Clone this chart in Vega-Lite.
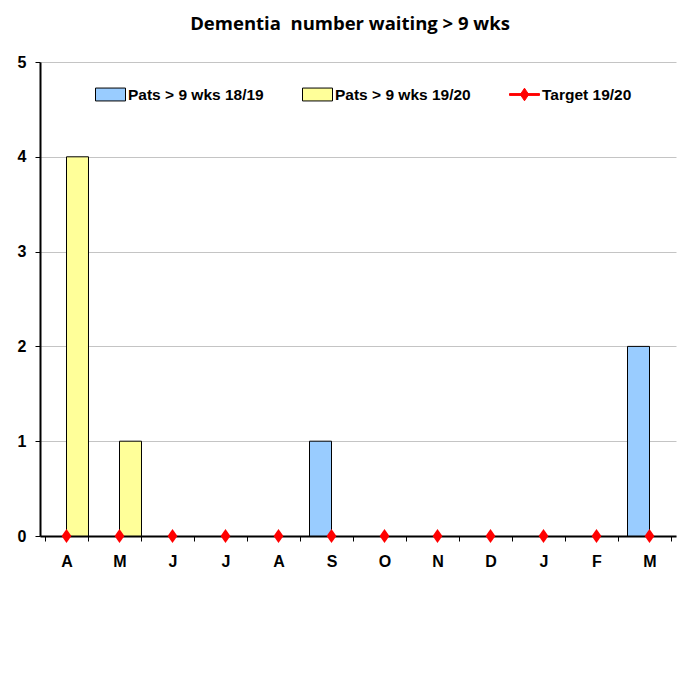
{
  "$schema": "https://vega.github.io/schema/vega-lite/v6.json",
  "autosize": "none",
  "width": 636,
  "height": 474,
  "padding": {"left": 40, "top": 62, "right": 22, "bottom": 146},
  "background": "white",
  "title": {
    "text": "Dementia\u00a0 number waiting > 9 wks",
    "font": "Open Sans",
    "fontSize": 18.5,
    "fontWeight": "bold",
    "color": "black",
    "anchor": "middle",
    "dx": -8,
    "offset": 21
  },
  "data": {
    "values": [
      {"month": "S", "series": "Pats > 9 wks 18/19", "value": 1},
      {"month": "M2", "series": "Pats > 9 wks 18/19", "value": 2},
      {"month": "A1", "series": "Pats > 9 wks 19/20", "value": 4},
      {"month": "M1", "series": "Pats > 9 wks 19/20", "value": 1},
      {"month": "A1", "series": "Target 19/20", "value": 0},
      {"month": "M1", "series": "Target 19/20", "value": 0},
      {"month": "J1", "series": "Target 19/20", "value": 0},
      {"month": "J2", "series": "Target 19/20", "value": 0},
      {"month": "A2", "series": "Target 19/20", "value": 0},
      {"month": "S", "series": "Target 19/20", "value": 0},
      {"month": "O", "series": "Target 19/20", "value": 0},
      {"month": "N", "series": "Target 19/20", "value": 0},
      {"month": "D", "series": "Target 19/20", "value": 0},
      {"month": "J3", "series": "Target 19/20", "value": 0},
      {"month": "F", "series": "Target 19/20", "value": 0},
      {"month": "M2", "series": "Target 19/20", "value": 0}
    ]
  },
  "encoding": {
    "x": {
      "field": "month",
      "type": "nominal",
      "sort": ["A1","M1","J1","J2","A2","S","O","N","D","J3","F","M2"],
      "scale": {"domain": ["A1","M1","J1","J2","A2","S","O","N","D","J3","F","M2"], "paddingInner": 0.17, "paddingOuter": 0.085},
      "axis": {
        "title": null,
        "labelAngle": 0,
        "labelExpr": "substring(datum.label, 0, 1)",
        "tickBand": "extent",
        "domainColor": "black",
        "domainWidth": 2,
        "tickColor": "black",
        "tickSize": 5,
        "labelPadding": 12,
        "grid": false
      }
    },
    "y": {
      "field": "value",
      "type": "quantitative",
      "scale": {"domain": [0, 5], "nice": false},
      "axis": {
        "title": null,
        "values": [0, 1, 2, 3, 4, 5],
        "grid": true,
        "gridColor": "#C4C4C4",
        "gridWidth": 1,
        "domainColor": "black",
        "domainWidth": 2,
        "tickColor": "black",
        "tickSize": 5,
        "labelPadding": 9
      }
    },
    "color": {
      "field": "series",
      "type": "nominal",
      "scale": {
        "domain": ["Pats > 9 wks 18/19", "Pats > 9 wks 19/20", "Target 19/20"],
        "range": ["#99CCFF", "#FFFF99", "#FF0000"]
      },
      "legend": {
        "title": null,
        "orient": "none",
        "legendX": 55,
        "legendY": 17,
        "direction": "horizontal",
        "columns": 3,
        "gridAlign": "all",
        "columnPadding": 36,
        "padding": 0,
        "symbolSize": 900,
        "symbolStrokeWidth": 1,
        "labelFont": "Liberation Sans",
        "labelFontSize": 15.5,
        "labelFontWeight": "bold",
        "labelColor": "black",
        "labelOffset": 2,
        "labelLimit": 300
      }
    }
  },
  "layer": [
    {
      "transform": [{"filter": "datum.series !== 'Target 19/20'"}],
      "mark": {"type": "bar", "stroke": "black", "strokeWidth": 1},
      "encoding": {
        "xOffset": {
          "field": "series",
          "type": "nominal",
          "scale": {"domain": ["Pats > 9 wks 18/19", "Pats > 9 wks 19/20"], "paddingInner": 0, "paddingOuter": 0}
        }
      }
    },
    {
      "transform": [{"filter": "datum.series === 'Target 19/20'"}],
      "mark": {"type": "point", "filled": true, "opacity": 1, "shape": "M0,-1L0.7,0L0,1L-0.7,0Z", "size": 196}
    },
    {
      "transform": [{"filter": "false"}],
      "mark": {"type": "point", "filled": true, "opacity": 1},
      "encoding": {
        "shape": {
          "field": "series",
          "type": "nominal",
          "scale": {
            "domain": ["Pats > 9 wks 18/19", "Pats > 9 wks 19/20", "Target 19/20"],
            "range": ["M-1,-0.43H1V0.43H-1Z", "M-1,-0.43H1V0.43H-1Z", "M-1,-0.06H1V0.06H-1Z M0,-0.42L0.28,0L0,0.42L-0.28,0Z"]
          },
          "legend": {"title": null}
        },
        "stroke": {
          "field": "series",
          "type": "nominal",
          "scale": {
            "domain": ["Pats > 9 wks 18/19", "Pats > 9 wks 19/20", "Target 19/20"],
            "range": ["#000000", "#000000", "#FF0000"]
          },
          "legend": {"title": null}
        }
      }
    }
  ],
  "config": {
    "view": {"stroke": null},
    "axis": {
      "labelFont": "Liberation Sans",
      "labelFontSize": 16,
      "labelFontWeight": "bold",
      "labelColor": "black"
    }
  }
}
